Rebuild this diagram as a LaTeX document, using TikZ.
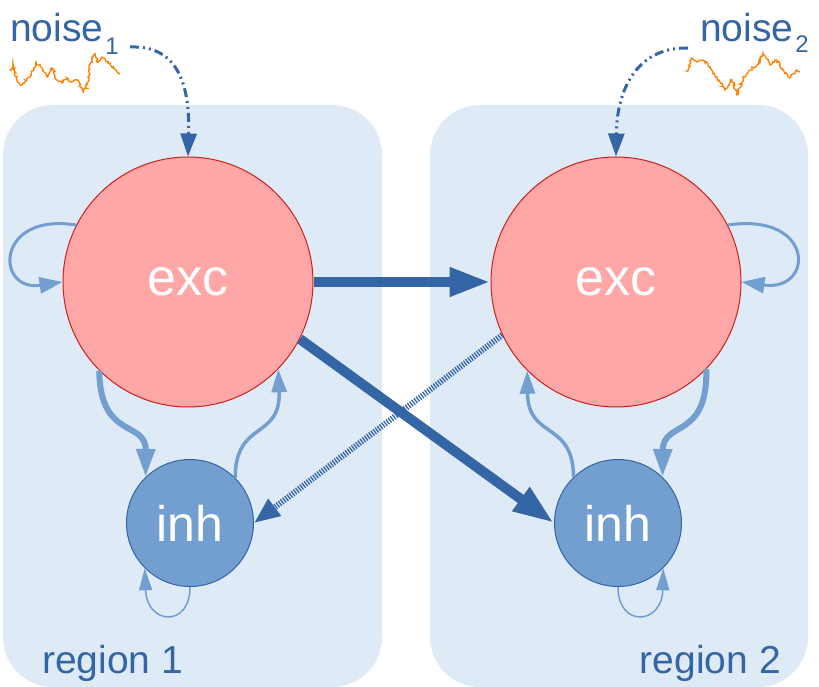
\documentclass[tikz,border=0pt]{standalone}
\usepackage{fontspec}
\setmainfont{Liberation Sans}
\usepackage{tikz}
\usetikzlibrary{arrows.meta, decorations.pathmorphing}

\definecolor{DarkBlue}{HTML}{3465A4}
\definecolor{LightBlue}{HTML}{729FCF}
\definecolor{Salmon}{HTML}{FFA6A6}
\definecolor{DarkRed}{HTML}{C9211E}
\definecolor{PaleBlue}{HTML}{DEEAF6}
\definecolor{Orange}{HTML}{FF8000}

\begin{document}
\begin{tikzpicture}[x=1pt, y=-1pt,
  region/.style={fill=PaleBlue, rounded corners=50pt},
  %
  exc/.style ={circle, draw=DarkRed, line width=1pt, fill=Salmon,
    minimum size=250pt, inner sep=0pt, text=white,
    font=\fontsize{52}{52}\selectfont},
  %
  inh/.style ={circle, draw=DarkBlue, line width=1pt, fill=LightBlue,
    minimum size=127pt, inner sep=0pt, text=white,
    font=\fontsize{50}{50}\selectfont},
  %
  tag/.style ={text=DarkBlue, inner sep=0pt,
    font=\fontsize{39}{39}\selectfont},
  %
  trace/.style ={draw=Orange, line width=1.3pt, decorate,
    decoration={random steps, segment length=1.5pt, amplitude=1.4pt}},
  %
  drive/.style ={DarkBlue, line width=3pt,
    dash pattern=on 9pt off 4pt on 2pt off 4pt on 2pt off 4pt,
    -{Triangle[length=23pt, width=16pt]}},
  %
  long/.style ={DarkBlue, line width=10pt,
    -{Triangle[length=41pt, width=27pt]}},
  %
  longinh/.style ={DarkBlue, line width=6pt, dash pattern=on 1.3pt off 1.4pt,
    -{Triangle[length=26pt, width=20pt]}},
  %
  ei/.style ={LightBlue, line width=6pt,
    -{Triangle[length=28pt, width=18pt]}},
  %
  ie/.style ={LightBlue, line width=3.5pt,
    -{Triangle[length=23pt, width=15pt]}},
  %
  eself/.style ={LightBlue, line width=3pt,
    -{Triangle[length=23pt, width=16pt]}},
  %
  iself/.style ={LightBlue, line width=1.5pt,
    -{Triangle[length=22pt, width=13pt]}}
  ]

  \useasboundingbox (0,0) rectangle (819,687);

  \begin{scope}
    \fill [region] (3,105) rectangle (382,687);
    \fill [region] (430,105) rectangle (808,687);
    \node [tag, anchor=base west] (reg1) at (42,673) {region 1};
    \node [tag, anchor=base east] (reg2) at (781,673) {region 2};
  \end{scope}

  \begin{scope}
    \node [exc] (exc1) at (188,282) {exc};
    \node [exc] (exc2) at (616,282) {exc};
    \node [inh] (inh1) at (190,523) {inh};
    \node [inh] (inh2) at (618,523) {inh};
  \end{scope}

  % noise inputs
  \begin{scope}
    \node [tag, anchor=base west] (noise1) at (10,42)
      {noise\kern2pt\raisebox{-13pt}{\fontsize{24}{24}\selectfont 1}};
    \node [tag, anchor=base west] (noise2) at (700,42)
      {noise\kern2pt\raisebox{-11pt}{\fontsize{24}{24}\selectfont 2}};
    \pgfmathsetseed{4}
    \draw [trace] plot coordinates {(11,71) (13,63) (17,80) (22,85) (25,80)
      (30,77) (36,62) (42,68) (47,77) (52,68) (57,80) (62,83) (67,78) (72,82)
      (78,80) (83,93) (87,85) (91,62) (95,53) (98,63) (103,58) (108,63)
      (113,68) (117,72) (120,73)};
    \draw [trace] plot coordinates {(687,72) (692,58) (697,62) (703,60)
      (710,67) (717,77) (725,90) (732,80) (737,95) (743,78) (750,70) (757,65)
      (763,53) (770,65) (777,60) (783,70) (790,78) (797,70) (800,72)};
    \coordinate (src1) at (130,47);
    \coordinate (src2) at (688,48);
    \draw [drive] (src1) .. controls (178,45) and (190,85) .. (exc1.north);
    \draw [drive] (src2) .. controls (640,47) and (617,85) .. (exc2.north);
  \end{scope}

  % between regions
  \begin{scope}
    \draw [long] (exc1.east) -- (exc2.west);
    \draw [long] (exc1.-27) -- (inh2.west);
    \draw [longinh] (exc2.205) -- (inh1.east);
  \end{scope}

  % inside regions
  \begin{scope}
    \draw [ei] (exc1.225) .. controls (100,440) and (146,420) .. (inh1.134);
    \draw [ie] (inh1.45) .. controls (235,420) and (281,440) .. (exc1.-44);
    \draw [eself] (exc1.153) .. controls (-5,212) and (-5,292) .. (exc1.west);
    \draw [iself] (inh1.south) .. controls (190,628) and (147,625) .. (inh1.225);
    %
    \draw [ei] (exc2.-44) .. controls (708,440) and (663,420) .. (inh2.46);
    \draw [ie] (inh2.134) .. controls (573,420) and (528,440) .. (exc2.225);
    \draw [eself] (exc2.27) .. controls (815,212) and (815,292) .. (exc2.east);
    \draw [iself] (inh2.south) .. controls (618,628) and (662,625) .. (inh2.-45);
  \end{scope}

\end{tikzpicture}
\end{document}
